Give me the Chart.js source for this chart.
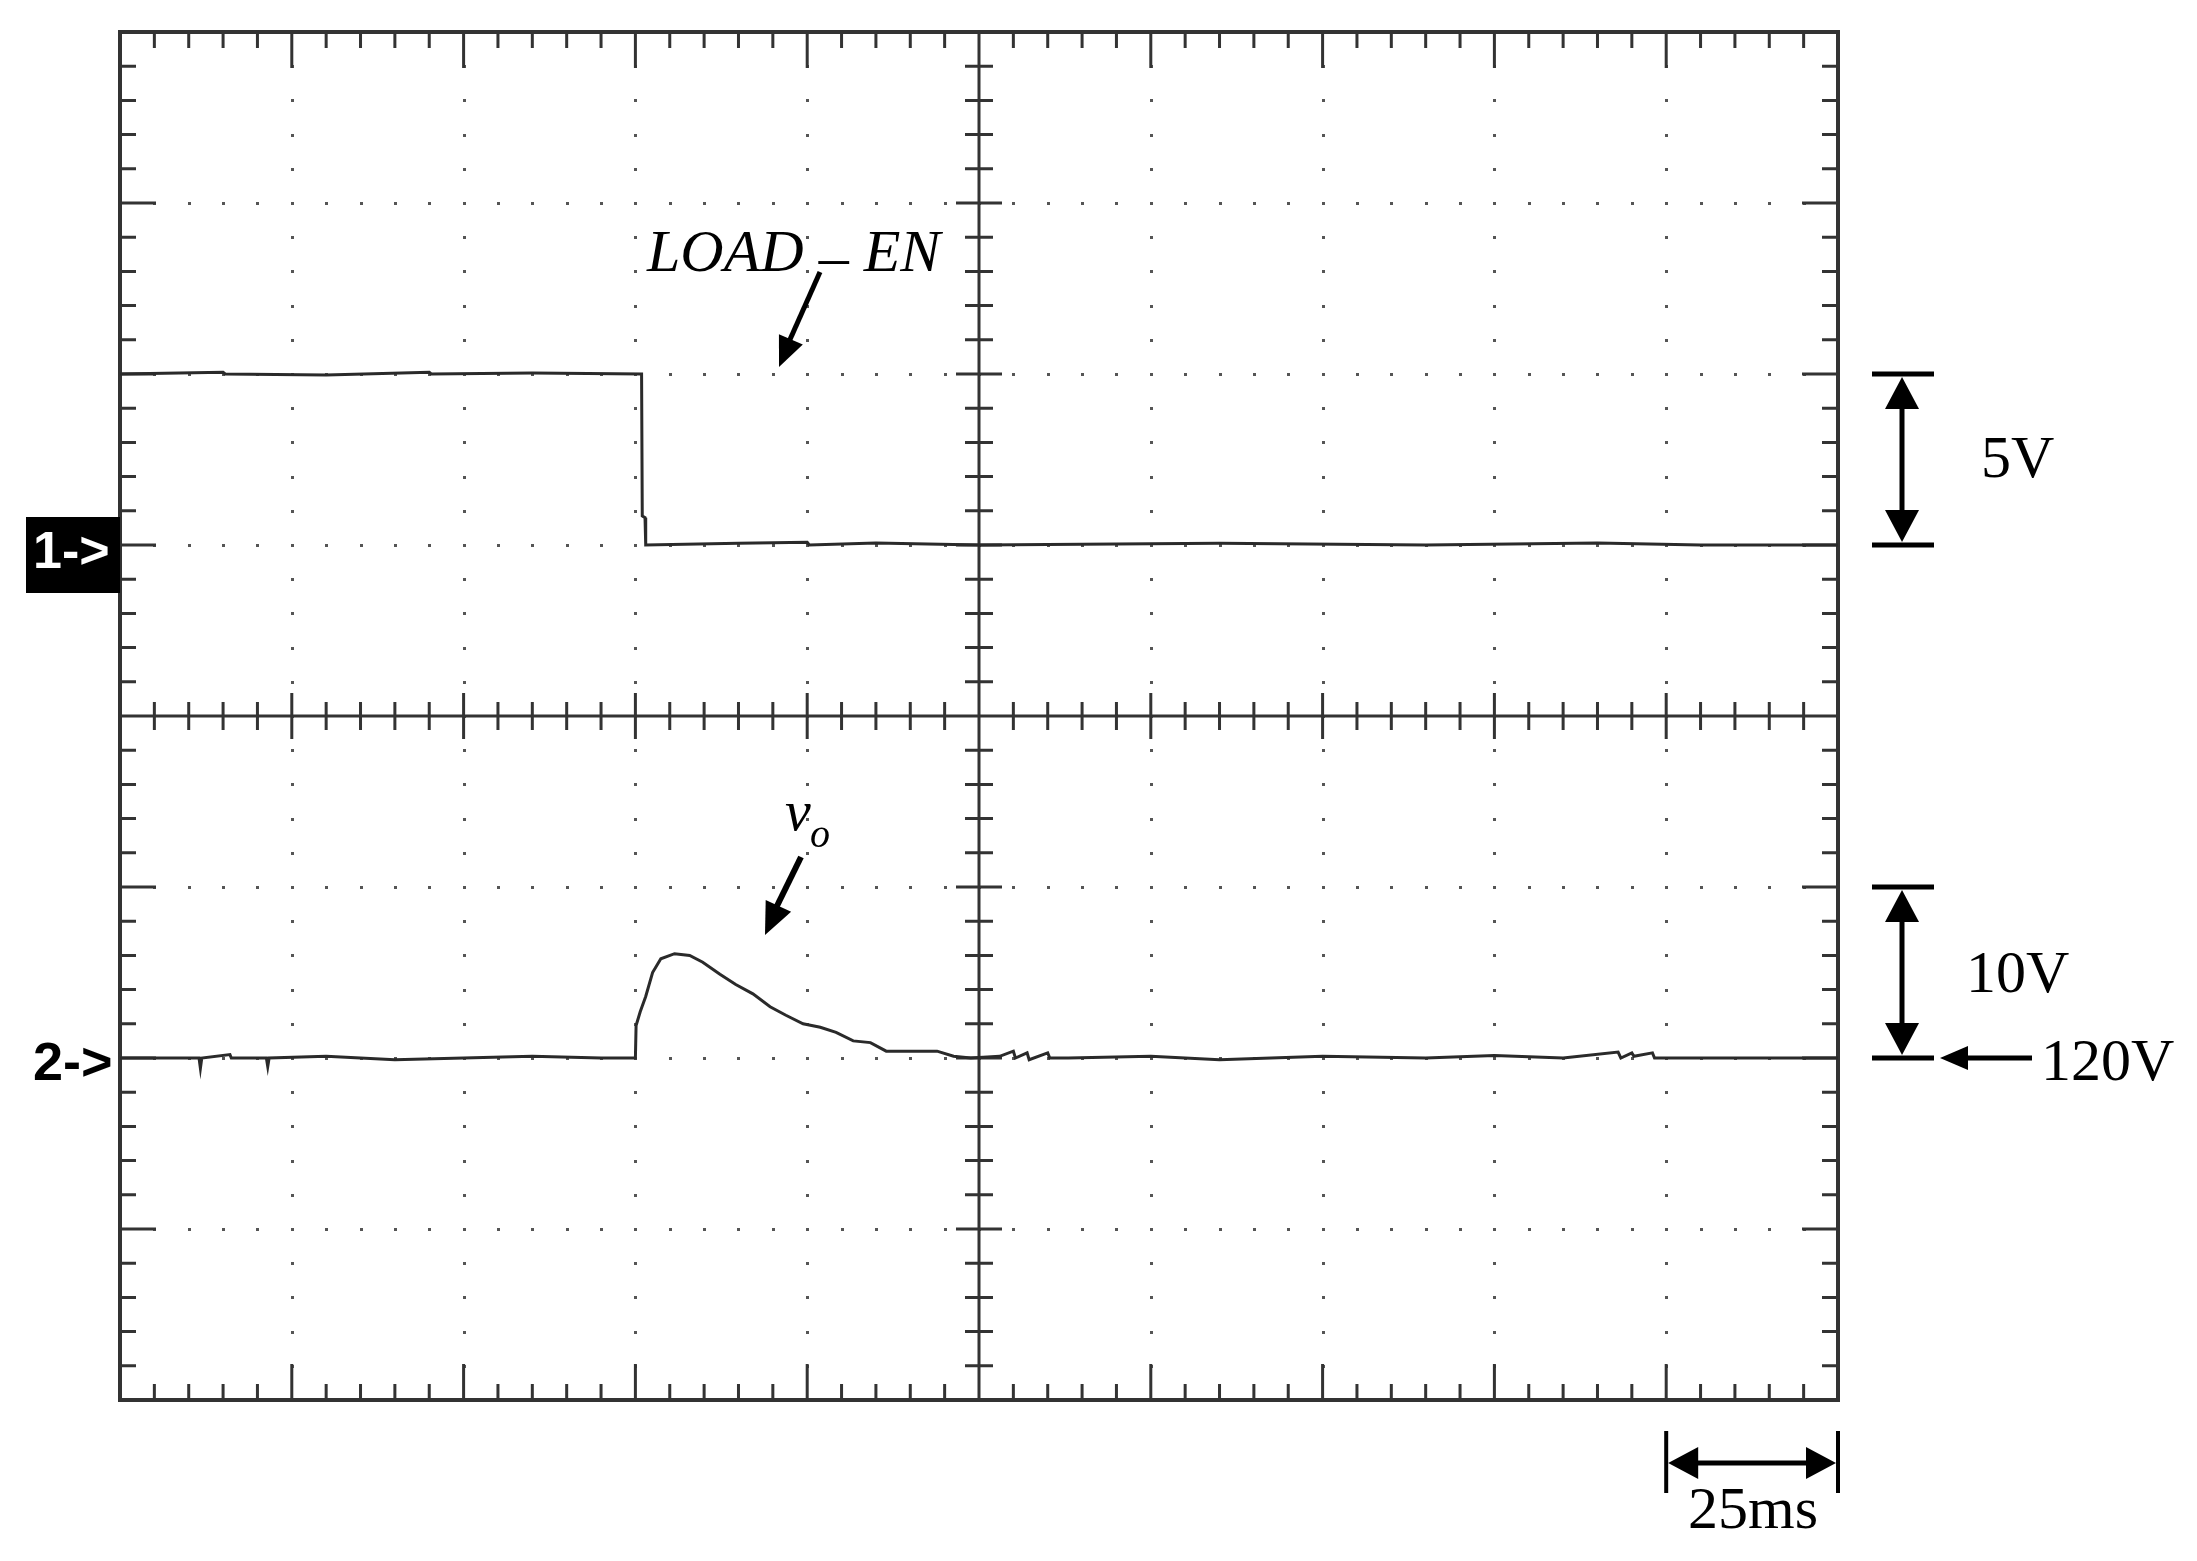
<!DOCTYPE html>
<html>
<head>
<meta charset="utf-8">
<script src="https://cdn.jsdelivr.net/npm/chart.js@4.4.0/dist/chart.umd.min.js"></script>
<style>
html, body { margin: 0; padding: 0; background: #fff; }
</style>
</head>
<body>
<canvas id="scope" width="2197" height="1561"></canvas>
<script>
// time base: 25 ms/div, 10 div
const timeMin = 0, timeMax = 250;

// channel 1: LOAD_EN (5 V/div, ground at marker "1->")
const ch1Time = [0, 15, 15.3, 30, 45, 45.3, 60, 75.9, 76.0, 76.4, 76.5, 90, 100, 100.3, 110, 125, 160, 190, 215, 230, 250];
const ch1Volt = [5, 5.05, 5, 4.97, 5.05, 5, 5.03, 5, 0.85, 0.8, 0, 0.05, 0.08, 0, 0.06, 0, 0.05, 0, 0.06, 0, 0];

// channel 2: vo (10 V/div, 120 V at marker "2->")
const ch2Time = [0, 8, 11.5, 11.7, 11.9, 16, 16.2, 21.3, 21.5, 21.7, 30, 40, 50, 60, 70, 75,
  75.1, 75.7, 76.5, 77.5, 78.7, 80.7, 82.9, 84.8, 87.3, 89.6, 92.1, 94.6, 96.9, 99.4, 101.9, 104.2,
  106.7, 109.2, 111.5, 116.5, 118.9, 121.3, 123.8,
  128, 130, 130.3, 132, 132.3, 135, 135.3, 138, 150, 160, 175, 190, 200, 210, 218, 218.4, 220, 220.3,
  223, 223.3, 235, 250];
const ch2Volt = [120, 120, 120, 119.4, 120, 120.2, 120, 120, 119.5, 120, 120.1, 119.9, 120, 120.1, 120, 120,
  121.9, 122.7, 123.6, 125.0, 125.8, 126.1, 126.0, 125.6, 124.9, 124.3, 123.75, 123.0, 122.5, 122.0, 121.8, 121.5,
  121.0, 120.9, 120.4, 120.4, 120.4, 120.1, 120,
  120.1, 120.4, 120, 120.3, 119.9, 120.3, 120, 120, 120.1, 119.9, 120.1, 120, 120.15, 120, 120.35, 120, 120.3, 120.1,
  120.3, 120, 120, 120];

const toPoints = (xs, ys) => xs.map((x, i) => ({ x: x, y: ys[i] }));

// oscilloscope graticule: dotted divisions, centre cross, inward ticks
const graticule = {
  id: 'graticule',
  beforeDatasetsDraw(chart) {
    const { ctx, chartArea: a } = chart;
    const dx = (a.right - a.left) / 10;
    const dy = (a.bottom - a.top) / 8;
    const cx = a.left + 5 * dx, cy = a.top + 4 * dy;
    ctx.save();
    ctx.fillStyle = '#555';
    for (let i = 1; i < 10; i++) {
      if (i === 5) continue;
      const x = Math.round(a.left + i * dx);
      for (let j = 1; j < 40; j++) ctx.fillRect(x - 1, Math.round(a.top + j * dy / 5) - 1, 3, 3);
    }
    for (let j = 1; j < 8; j++) {
      if (j === 4) continue;
      const y = Math.round(a.top + j * dy);
      for (let i = 1; i < 50; i++) ctx.fillRect(Math.round(a.left + i * dx / 5) - 1, y - 1, 3, 3);
    }
    ctx.strokeStyle = '#333';
    ctx.lineWidth = 3;
    ctx.beginPath();
    for (let i = 1; i < 50; i++) {
      const x = a.left + i * dx / 5;
      const len = i % 5 === 0 ? 36 : 16;
      const c = i % 5 === 0 ? 23 : 14;
      ctx.moveTo(x, a.top); ctx.lineTo(x, a.top + len);
      ctx.moveTo(x, a.bottom); ctx.lineTo(x, a.bottom - len);
      ctx.moveTo(x, cy - c); ctx.lineTo(x, cy + c);
    }
    for (let j = 1; j < 40; j++) {
      const y = a.top + j * dy / 5;
      const len = j % 5 === 0 ? 36 : 16;
      const c = j % 5 === 0 ? 23 : 14;
      ctx.moveTo(a.left, y); ctx.lineTo(a.left + len, y);
      ctx.moveTo(a.right, y); ctx.lineTo(a.right - len, y);
      ctx.moveTo(cx - c, y); ctx.lineTo(cx + c, y);
    }
    ctx.moveTo(a.left, cy); ctx.lineTo(a.right, cy);
    ctx.moveTo(cx, a.top); ctx.lineTo(cx, a.bottom);
    ctx.stroke();
    ctx.lineWidth = 4;
    ctx.strokeRect(a.left, a.top, a.right - a.left, a.bottom - a.top);
    ctx.restore();
  }
};

function head(ctx, tx, ty, fx, fy, len, half) {
  const ang = Math.atan2(ty - fy, tx - fx);
  const bx = tx - len * Math.cos(ang), by = ty - len * Math.sin(ang);
  ctx.beginPath();
  ctx.moveTo(tx, ty);
  ctx.lineTo(bx + half * Math.sin(ang), by - half * Math.cos(ang));
  ctx.lineTo(bx - half * Math.sin(ang), by + half * Math.cos(ang));
  ctx.closePath();
  ctx.fill();
}
function seg(ctx, x0, y0, x1, y1, w) {
  ctx.lineWidth = w;
  ctx.beginPath(); ctx.moveTo(x0, y0); ctx.lineTo(x1, y1); ctx.stroke();
}

// labels, scale bars and pointers
const notes = {
  id: 'notes',
  afterDatasetsDraw(chart) {
    const { ctx } = chart;
    const x = chart.scales.x, y1 = chart.scales.y1, y2 = chart.scales.y2;
    ctx.save();
    ctx.fillStyle = '#000';
    ctx.strokeStyle = '#000';
    ctx.lineCap = 'butt';
    ctx.textBaseline = 'alphabetic';
    ctx.textAlign = 'left';

    // channel markers
    ctx.fillRect(26, 517, 94, 76);
    ctx.fillStyle = '#fff';
    ctx.font = "bold 52px 'Liberation Sans'";
    ctx.fillText('1->', 33, 568);
    ctx.fillStyle = '#000';
    ctx.font = "bold 54px 'Liberation Sans'";
    ctx.fillText('2->', 33, 1080);

    // trace labels
    ctx.font = "italic 60px 'Liberation Serif'";
    let tx = 647;
    ctx.fillText('LOAD', tx, 271);
    tx += ctx.measureText('LOAD ').width;
    ctx.fillText('_', tx, 256);
    tx += ctx.measureText('_ ').width;
    ctx.fillText('EN', tx, 271);
    seg(ctx, 820, 272, 788, 344, 5);
    head(ctx, 779, 367, 820, 272, 30, 13);

    ctx.font = "italic 58px 'Liberation Serif'";
    ctx.fillText('v', 785, 830);
    ctx.font = "italic 40px 'Liberation Serif'";
    ctx.fillText('o', 810, 847);
    seg(ctx, 801, 857, 774, 912, 6);
    head(ctx, 765, 935, 801, 857, 32, 14);

    // 5 V/div bar
    const a5 = y1.getPixelForValue(5), b5 = y1.getPixelForValue(0);
    seg(ctx, 1872, a5, 1934, a5, 5);
    seg(ctx, 1872, b5, 1934, b5, 5);
    seg(ctx, 1902, a5 + 20, 1902, b5 - 20, 5);
    head(ctx, 1902, a5 + 3, 1902, b5, 32, 17);
    head(ctx, 1902, b5 - 3, 1902, a5, 32, 17);
    ctx.font = "60px 'Liberation Serif'";
    ctx.fillText('5V', 1981, 477);

    // 10 V/div bar and 120 V offset
    const a10 = y2.getPixelForValue(130), b10 = y2.getPixelForValue(120);
    seg(ctx, 1872, a10, 1934, a10, 5);
    seg(ctx, 1872, b10, 1934, b10, 5);
    seg(ctx, 1902, a10 + 20, 1902, b10 - 20, 5);
    head(ctx, 1902, a10 + 3, 1902, b10, 32, 17);
    head(ctx, 1902, b10 - 3, 1902, a10, 32, 17);
    ctx.fillText('10V', 1966, 992);
    seg(ctx, 1960, b10, 2032, b10, 5);
    head(ctx, 1940, b10, 2032, b10, 28, 12);
    ctx.fillText('120V', 2041, 1080);

    // 25 ms/div bar over the last division
    const l25 = x.getPixelForValue(225), r25 = x.getPixelForValue(250);
    seg(ctx, l25, 1431, l25, 1493, 4);
    seg(ctx, r25, 1431, r25, 1493, 4);
    seg(ctx, l25 + 20, 1463, r25 - 20, 1463, 5);
    head(ctx, l25 + 2, 1463, r25, 1463, 30, 16);
    head(ctx, r25 - 2, 1463, l25, 1463, 30, 16);
    ctx.font = "60px 'Liberation Serif'";
    ctx.fillText('25ms', 1688, 1528);
    ctx.restore();
  }
};

const ctx = document.getElementById('scope').getContext('2d');
const scopeChart = new Chart(ctx, {
  type: 'line',
  data: {
    datasets: [
      {
        label: 'LOAD_EN',
        data: toPoints(ch1Time, ch1Volt),
        yAxisID: 'y1',
        borderColor: '#2a2a2a',
        borderWidth: 3,
        pointRadius: 0,
        tension: 0
      },
      {
        label: 'vo',
        data: toPoints(ch2Time, ch2Volt),
        yAxisID: 'y2',
        borderColor: '#2a2a2a',
        borderWidth: 3,
        pointRadius: 0,
        tension: 0
      }
    ]
  },
  options: {
    responsive: false,
    animation: false,
    layout: { padding: { left: 120, top: 32, right: 359, bottom: 161 } },
    plugins: { legend: { display: false }, tooltip: { enabled: false } },
    scales: {
      x: { type: 'linear', min: timeMin, max: timeMax, display: false },
      // ch1: 5 V/div, ground 5 div above bottom
      y1: { type: 'linear', position: 'left', min: -25, max: 15, display: false },
      // ch2: 10 V/div, 120 V 2 div above bottom
      y2: { type: 'linear', position: 'right', min: 100, max: 180, display: false }
    }
  },
  plugins: [graticule, notes]
});
</script>
</body>
</html>
